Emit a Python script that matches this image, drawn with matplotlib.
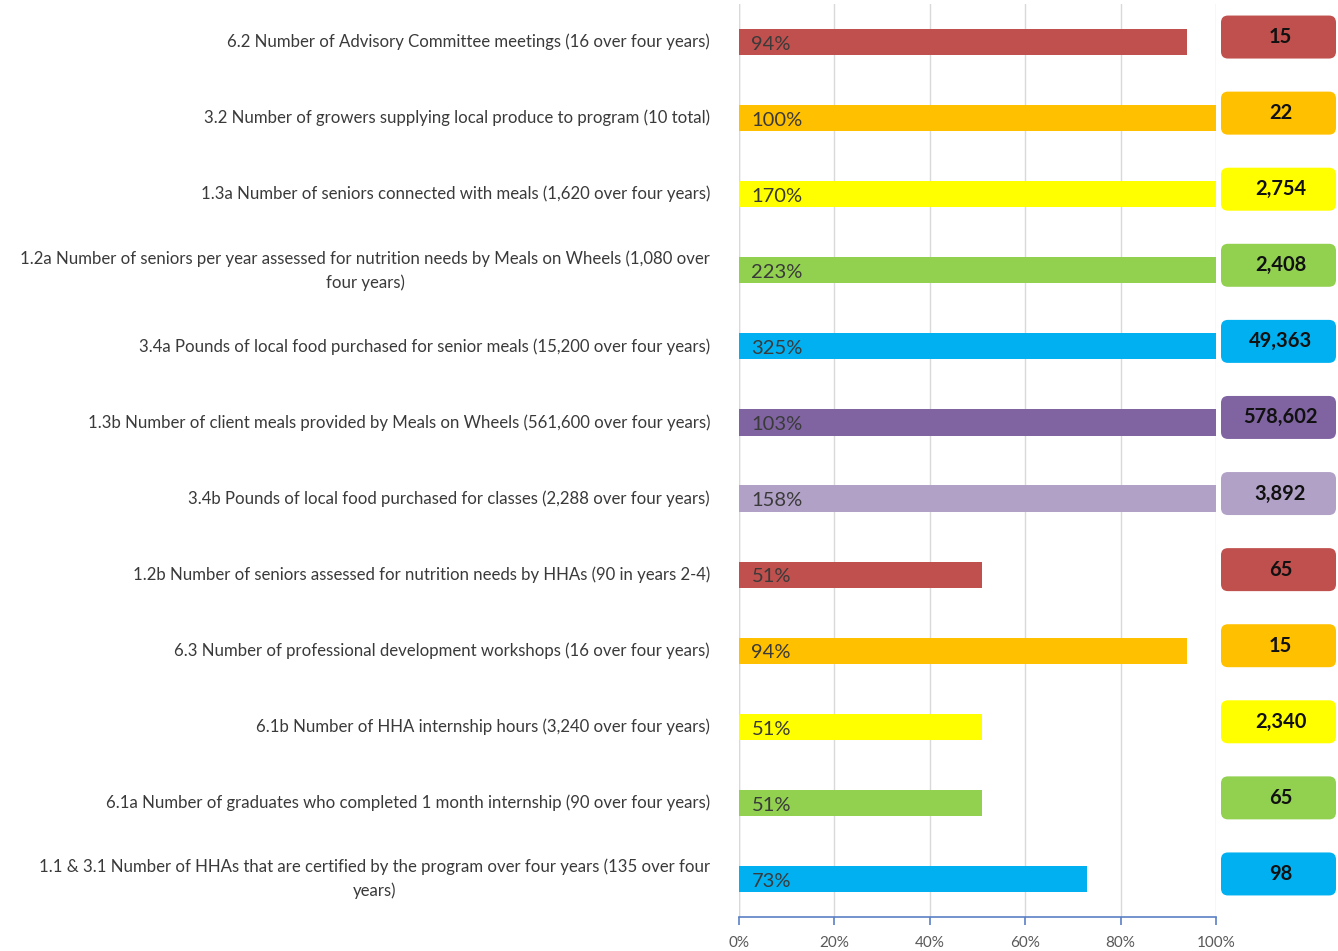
import numpy as np
import matplotlib
matplotlib.use('Agg')
import matplotlib.pyplot as plt
from matplotlib.patches import FancyBboxPatch

# ── Data (top to bottom) ─────────────────────────────────────────────────────
labels = [
    '6.2 Number of Advisory Committee meetings (16 over four years)',
    '3.2 Number of growers supplying local produce to program (10 total)',
    '1.3a Number of seniors connected with meals (1,620 over four years)',
    '1.2a Number of seniors per year assessed for nutrition needs by Meals on Wheels (1,080 over\nfour years)',
    '3.4a Pounds of local food purchased for senior meals (15,200 over four years)',
    '1.3b Number of client meals provided by Meals on Wheels (561,600 over four years)',
    '3.4b Pounds of local food purchased for classes (2,288 over four years)',
    '1.2b Number of seniors assessed for nutrition needs by HHAs (90 in years 2-4)',
    '6.3 Number of professional development workshops (16 over four years)',
    '6.1b Number of HHA internship hours (3,240 over four years)',
    '6.1a Number of graduates who completed 1 month internship (90 over four years)',
    '1.1 & 3.1 Number of HHAs that are certified by the program over four years (135 over four\nyears)',
]
pct_done = [94, 100, 170, 223, 325, 103, 158, 51, 94, 51, 51, 73]
actuals = ['15', '22', '2,754', '2,408', '49,363', '578,602', '3,892',
           '65', '15', '2,340', '65', '98']
colors = ['#C0504D', '#FFC000', '#FFFF00', '#92D050', '#00B0F0', '#8064A2',
          '#B2A1C7', '#C0504D', '#FFC000', '#FFFF00', '#92D050', '#00B0F0']

FONT = 'Lato'
TXT = '#3A3A3A'

W, H = 1338, 951
fig = plt.figure(figsize=(W / 100, H / 100), dpi=100)
fig.patch.set_facecolor('white')

# main bar axes (pixel-measured)
x0, x1 = 739, 1216
y_top, y_bot = 4, 917
ax = fig.add_axes([x0 / W, 1 - y_bot / H, (x1 - x0) / W, (y_bot - y_top) / H])
n = len(labels)
ypos = np.arange(n)
widths = [min(p, 100) / 100 for p in pct_done]   # bars capped at 100%
ax.barh(ypos, widths, height=0.345, color=colors, zorder=2)
ax.set_xlim(0, 1)
ax.set_ylim(n - 0.5, -0.5)
ax.set_yticks([])
ax.set_xticks(np.linspace(0, 1, 6))
ax.set_xticklabels([f'{int(v)}%' for v in np.linspace(0, 100, 6)],
                   fontsize=11, color='#595959', family=FONT)
ax.grid(axis='x', color='#D9D9D9', lw=1, zorder=0)
for s in ['top', 'right', 'left']:
    ax.spines[s].set_visible(False)
ax.spines['bottom'].set_color('#5B7FC4')
ax.spines['bottom'].set_linewidth(1.2)
ax.tick_params(axis='x', colors='#5B7FC4', length=6, width=1.2, direction='out',
               labelcolor='#595959', pad=8)
ax.axvline(0, color='#D9D9D9', lw=1, zorder=1)

for i, (lab, p) in enumerate(zip(labels, pct_done)):
    ax.text(0.026, i + 0.03, f'{p}%', ha='left', va='center', fontsize=14.5,
            color=TXT, family=FONT, zorder=3)
    ax.text(-29 / (x1 - x0), i, lab, transform=ax.get_yaxis_transform(),
            ha='right', va='center', multialignment='center', fontsize=12.1,
            color=TXT, family=FONT, linespacing=1.55)

# ── value boxes ──────────────────────────────────────────────────────────────
bx0, bx1 = 1220, 1337
axb = fig.add_axes([bx0 / W, 1 - y_bot / H, (bx1 - bx0) / W, (y_bot - y_top) / H])
axb.set_xlim(0, bx1 - bx0)
axb.set_ylim(n - 0.5, -0.5)
axb.axis('off')
row_px = (y_bot - y_top) / n
box_h = 43 / row_px
for i, (val, c) in enumerate(zip(actuals, colors)):
    cy = i - 5 / row_px
    patch = FancyBboxPatch((1, cy - box_h / 2), (bx1 - bx0) - 2, box_h,
                           boxstyle='round,pad=0,rounding_size=7',
                           mutation_aspect=1 / row_px,
                           facecolor=c, edgecolor='none')
    axb.add_patch(patch)
    axb.text((bx1 - bx0) / 2 + 2, cy, val, ha='center', va='center', fontsize=14.5,
             fontweight='bold', color='#111111', family=FONT)

fig.savefig('out.png', dpi=100, facecolor='white')
